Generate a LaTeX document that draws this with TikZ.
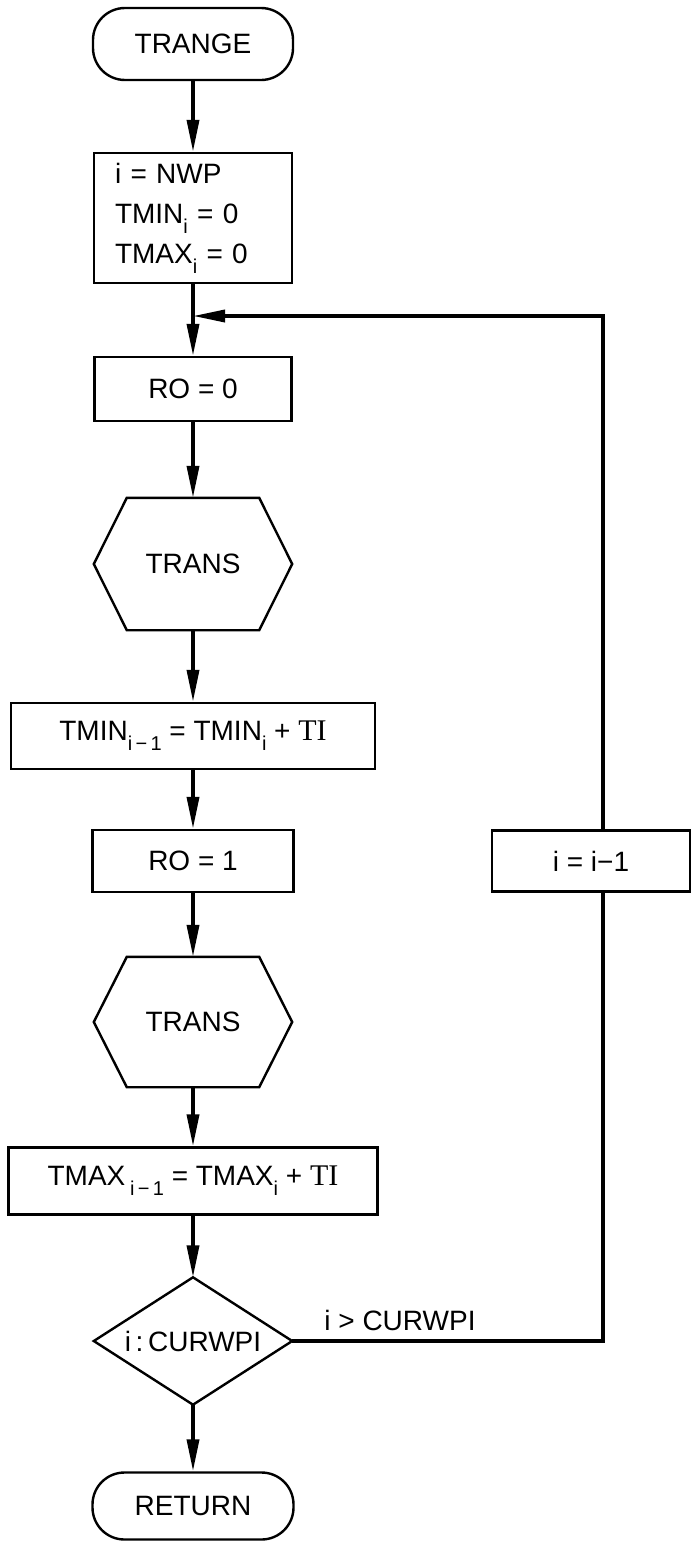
\documentclass[tikz,border=0pt]{standalone}
\usepackage{fontspec}
\setmainfont{Liberation Sans}
\newfontfamily\serfont{Liberation Serif}
\usetikzlibrary{arrows.meta}
\newcommand\mainfs{\fontsize{28pt}{40pt}\selectfont}
\newcommand\sbx[1]{\raisebox{-0.36em}{\fontsize{20pt}{20pt}\selectfont #1}}
\newcommand\tival{{\serfont\fontsize{30pt}{30pt}\selectfont TI}}
\begin{document}
\begin{tikzpicture}[x=1pt,y=-1pt,
  proc/.style={draw, line width=2.4pt, inner sep=0pt, align=center, font=\mainfs},
  term/.style={proc, rounded corners=32pt},
  hexbase/.style={inner sep=0pt, font=\mainfs},
  outline/.style={line width=2.4pt, line join=miter},
  conn/.style={line width=3.6pt},
  arr/.style={conn, -{Triangle[length=32pt,width=12pt]}}]
\useasboundingbox (0,0) rectangle (692,1542);
% main column
\node[term, minimum width=200pt, minimum height=72pt] (trange) at (193,44) {TRANGE};
\node[proc, minimum width=198pt, minimum height=130pt, text width=156pt, align=left] (init) at (193,218) {i = NWP\\TMIN\sbx{i} = 0\\TMAX\sbx{i} = 0};
\node[proc, minimum width=197pt, minimum height=64pt] (ro0) at (193,389) {RO = 0};
\node[hexbase, minimum width=198pt, minimum height=132pt] (trans1) at (193,564) {TRANS};
\node[proc, minimum width=364pt, minimum height=66pt] (tmin) at (193,736) {TMIN\sbx{i\,−\,1} = TMIN\sbx{i} + \tival};
\node[proc, minimum width=201pt, minimum height=62pt] (ro1) at (193,861) {RO = 1};
\node[hexbase, minimum width=198pt, minimum height=130pt] (trans2) at (193,1022) {TRANS};
\node[proc, minimum width=369pt, minimum height=67pt] (tmax) at (193,1181) {TMAX\,\sbx{i\,−\,1} = TMAX\sbx{i} + \tival};
\node[hexbase, minimum width=198pt, minimum height=127pt] (dec) at (193,1341) {i\,:\,CURWPI};
\node[term, minimum width=201pt, minimum height=67pt] (ret) at (193,1506) {RETURN};
% loop column
\node[proc, minimum width=198pt, minimum height=61pt] (deci) at (591,861) {i = i−1};
\node[font=\mainfs, inner sep=0pt, anchor=base] (lbl) at (400,1330) {i > CURWPI};
% hexagons and diamond
\foreach \n in {trans1,trans2}
  \draw[outline] ([xshift=33pt]\n.north west) -- ([xshift=-33pt]\n.north east) -- (\n.east)
     -- ([xshift=-33pt]\n.south east) -- ([xshift=33pt]\n.south west) -- (\n.west) -- cycle;
\draw[outline] (dec.north) -- (dec.east) -- (dec.south) -- (dec.west) -- cycle;
% connectors
\coordinate (join) at (193,316);
\draw[arr] (trange) -- (init);
\draw[arr] (init) -- (ro0);
\draw[arr] (ro0) -- (trans1);
\draw[arr] (trans1) -- (tmin);
\draw[arr] (tmin) -- (ro1);
\draw[arr] (ro1) -- (trans2);
\draw[arr] (trans2) -- (tmax);
\draw[arr] (tmax) -- (dec);
\draw[arr] (dec) -- (ret);
\draw[conn, line join=miter] (dec.east) -| ([xshift=12pt]deci.south);
\draw[arr, line join=miter] ([xshift=12pt]deci.north) |- (join);
\end{tikzpicture}
\end{document}
